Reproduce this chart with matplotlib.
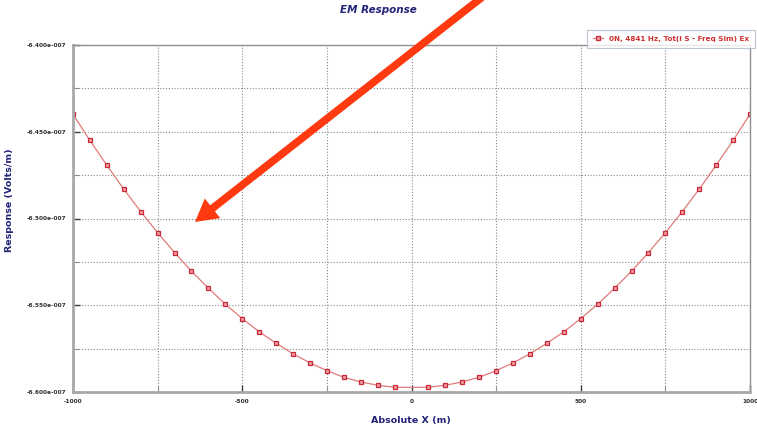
import numpy as np
import matplotlib.pyplot as plt
from matplotlib.ticker import MultipleLocator, FuncFormatter

# receiver positions (m) and response (x 1e-7 V/m)
pos = [-1000, -950, -900, -850, -800, -750, -700, -650, -600, -550,
       -500, -450, -400, -350, -300, -250, -200, -150, -100, -50,
       50, 100, 150, 200, 250, 300, 350, 400, 450, 500,
       550, 600, 650, 700, 750, 800, 850, 900, 950, 1000]
resp = [-6.4399, -6.4550, -6.4693, -6.4831, -6.4960, -6.5082, -6.5196, -6.5304, -6.5402, -6.5494,
        -6.5577, -6.5653, -6.5719, -6.5780, -6.5832, -6.5877, -6.5915, -6.5942, -6.5961, -6.5973,
        -6.5973, -6.5961, -6.5942, -6.5915, -6.5877, -6.5832, -6.5780, -6.5719, -6.5653, -6.5577,
        -6.5494, -6.5402, -6.5304, -6.5196, -6.5082, -6.4960, -6.4831, -6.4693, -6.4550, -6.4399]
series_name = '0N, 4841 Hz, Tot(I S - Freq Sim) Ex'

x = np.array(pos)
y = np.array(resp) * 1e-7

navy = '#23237a'
fig = plt.figure(figsize=(7.57, 4.29), dpi=100)
ax = fig.add_axes([73/757, 1-392/429, 677/757, 347/429])

ax.plot(x, y, color='#e07a7a', lw=0.9, marker='s', ms=3.2,
        mfc='#f0a0a0', mec='#c8283a', mew=0.9, label=series_name)

ax.set_xlim(-1000, 1000)
ax.set_ylim(-6.6e-7, -6.4e-7)
ax.xaxis.set_major_locator(MultipleLocator(500))
ax.xaxis.set_minor_locator(MultipleLocator(250))
ax.yaxis.set_major_locator(MultipleLocator(0.05e-7))
ax.yaxis.set_minor_locator(MultipleLocator(0.025e-7))
ax.yaxis.set_major_formatter(FuncFormatter(lambda v, p: f'{v/1e-7:.3f}e-007'))
ax.xaxis.set_major_formatter(FuncFormatter(lambda v, p: f'{v:.0f}'))

ax.grid(which='both', ls=(0, (1, 1.6)), color='#8a8a8a', lw=0.8)
ax.tick_params(which='major', direction='in', length=5, width=1, color='#404040',
               labelsize=4.2, pad=5)
ax.tick_params(which='minor', direction='in', length=4, width=0.8, color='#909090')
for lab in ax.get_xticklabels() + ax.get_yticklabels():
    lab.set_fontweight('bold')
    lab.set_color('#303030')

for s in ['left', 'bottom']:
    ax.spines[s].set_color('#a8a8a8')
    ax.spines[s].set_linewidth(2)
for s in ['top', 'right']:
    ax.spines[s].set_color('#909090')
    ax.spines[s].set_linewidth(1)

fig.text(0.5, 1-10/429, 'EM Response', ha='center', va='center', color=navy,
         fontsize=7.5, fontweight='bold', fontstyle='italic')
fig.text(411/757, 1-420/429, 'Absolute X (m)', ha='center', va='center', color=navy,
         fontsize=6.8, fontweight='bold')
fig.text(10/757, 1-200/429, 'Response (Volts/m)', ha='center', va='center', color=navy,
         fontsize=6.8, fontweight='bold', rotation=90)

leg = fig.legend(loc='upper right', bbox_to_anchor=(755/757, 1-30/429), fontsize=5.2,
                 frameon=True, fancybox=False, borderpad=0.8, handlelength=1.5,
                 handletextpad=0.8, borderaxespad=0)
leg.get_frame().set_edgecolor('#a8b8c8')
leg.get_frame().set_linewidth(0.8)
for t in leg.get_texts():
    t.set_color('#d03030')
    t.set_fontweight('bold')

# red arrow drawn over the chart
ax.annotate('', xy=(195/757, 1-222/429), xycoords='figure fraction',
            xytext=(484/757, 1.01), textcoords='figure fraction',
            arrowprops=dict(facecolor='#ff3a10', edgecolor='none', width=5.5,
                            headwidth=18, headlength=16), annotation_clip=False)

fig.savefig('out.png', dpi=100)
